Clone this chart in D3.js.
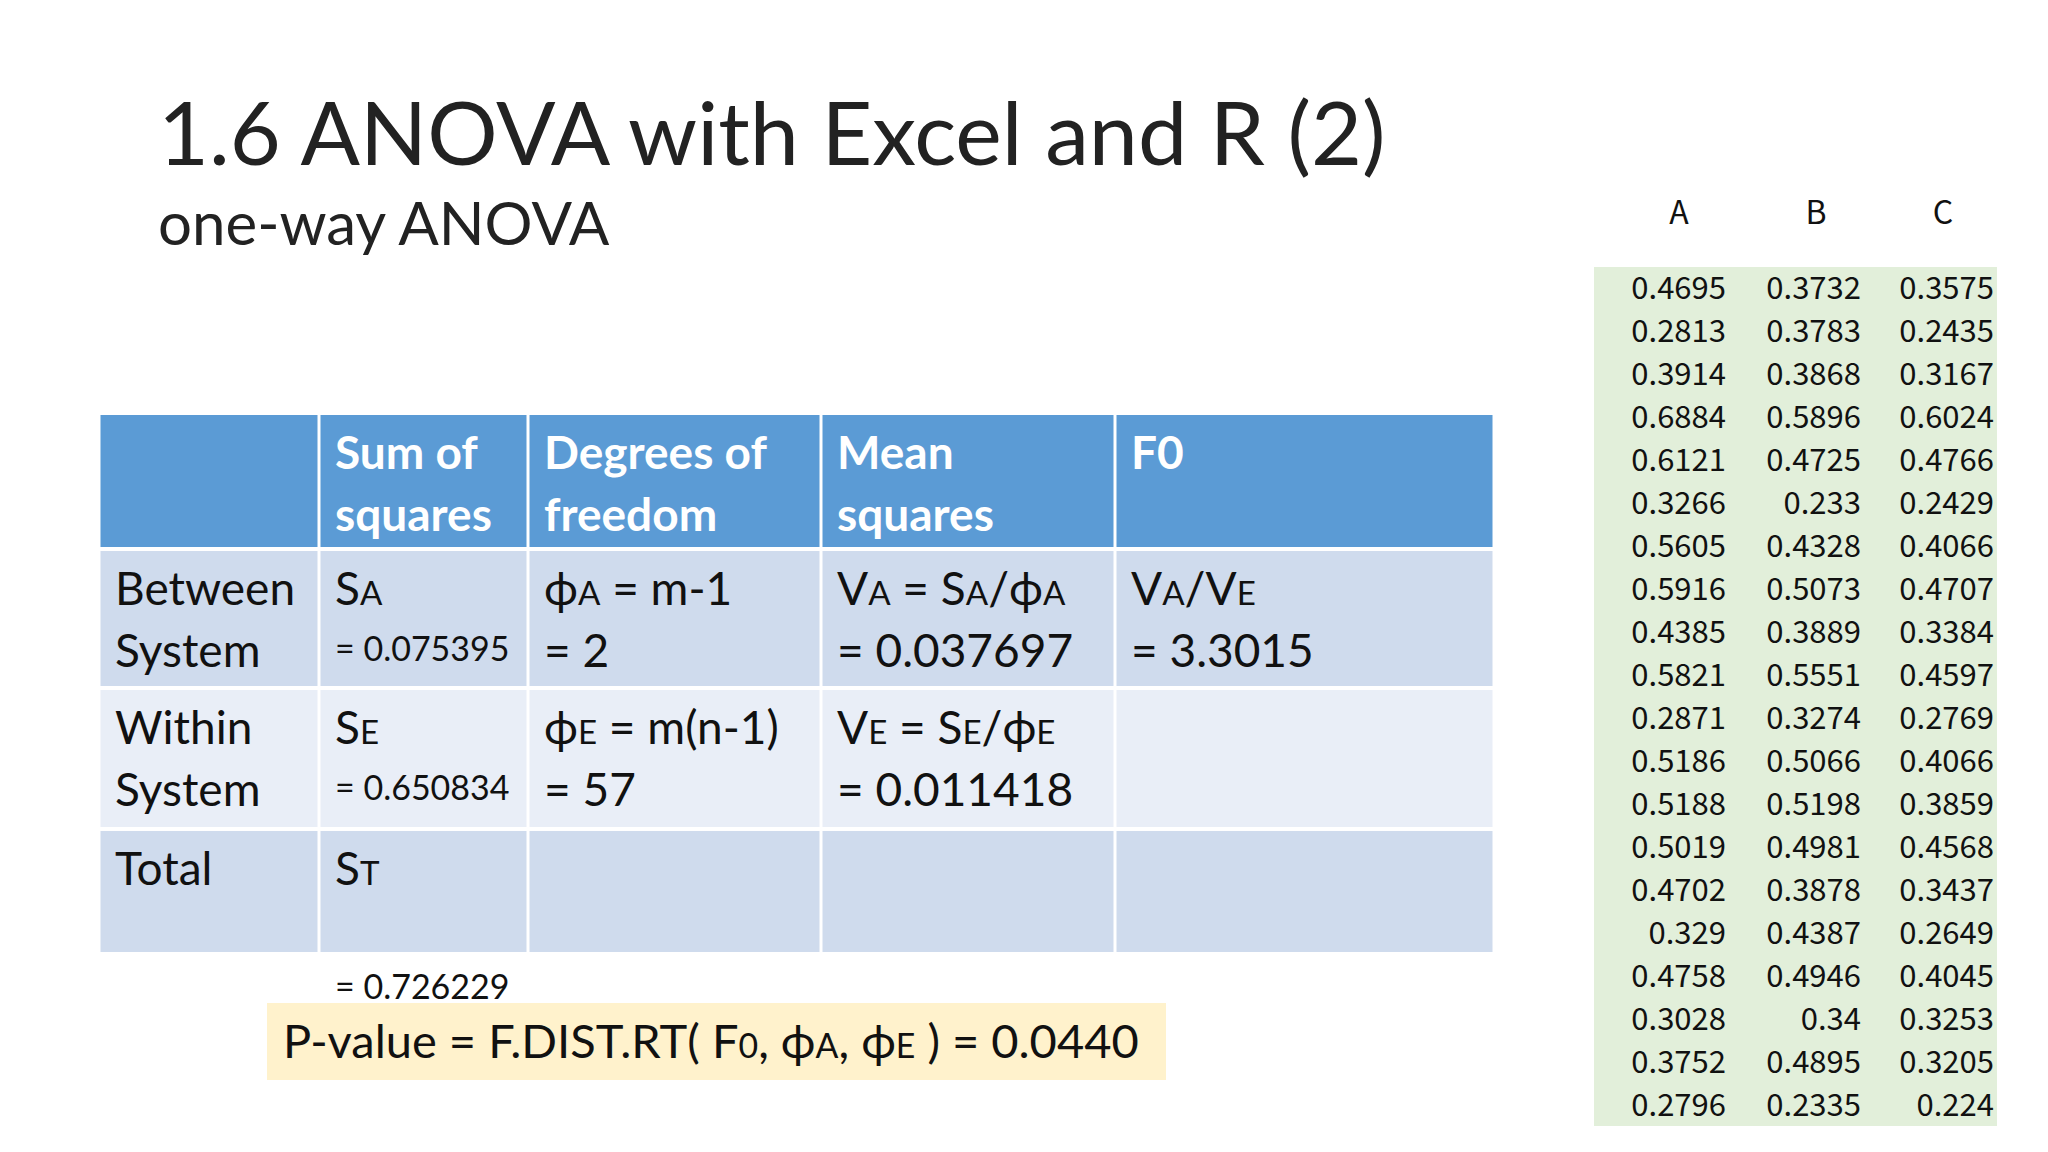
<!DOCTYPE html>
<html><head><meta charset="utf-8">
<script src="https://cdn.jsdelivr.net/npm/d3@7"></script>
<style>body{margin:0;background:#fff}svg{display:block}</style>
</head><body>
<script>
const title = "1.6 ANOVA with Excel and R (2)";
const subtitle = "one-way ANOVA";
const colNames = ["A","B","C"];
const valA = ["0.4695","0.2813","0.3914","0.6884","0.6121","0.3266","0.5605","0.5916","0.4385","0.5821","0.2871","0.5186","0.5188","0.5019","0.4702","0.329","0.4758","0.3028","0.3752","0.2796"];
const valB = ["0.3732","0.3783","0.3868","0.5896","0.4725","0.233","0.4328","0.5073","0.3889","0.5551","0.3274","0.5066","0.5198","0.4981","0.3878","0.4387","0.4946","0.34","0.4895","0.2335"];
const valC = ["0.3575","0.2435","0.3167","0.6024","0.4766","0.2429","0.4066","0.4707","0.3384","0.4597","0.2769","0.4066","0.3859","0.4568","0.3437","0.2649","0.4045","0.3253","0.3205","0.224"];
const headers = [[], ["Sum of","squares"], ["Degrees of","freedom"], ["Mean","squares"], ["F0"]];
// each cell: lines of segments [text, isSub]; small flag for smaller value line
const rows = [
 [ [[["Between"]],[["System"]]], [[["S"],["A",1]],[["= 0.075395"]]], [[["ϕ"],["A",1],[" = m-1"]],[["= 2"]]], [[["V"],["A",1],[" = S"],["A",1],["/ϕ"],["A",1]],[["= 0.037697"]]], [[["V"],["A",1],["/V"],["E",1]],[["= 3.3015"]]] ],
 [ [[["Within"]],[["System"]]], [[["S"],["E",1]],[["= 0.650834"]]], [[["ϕ"],["E",1],[" = m(n-1)"]],[["= 57"]]], [[["V"],["E",1],[" = S"],["E",1],["/ϕ"],["E",1]],[["= 0.011418"]]], [] ],
 [ [[["Total"]]], [[["S"],["T",1]],[],[["= 0.726229"]]], [], [], [] ]
];
const pvalue = [["P-value = F.DIST.RT( F"],["0",1],[", ϕ"],["A",1],[", ϕ"],["E",1],[" ) = 0.0440"]];

const W=2048,H=1152;
const svg=d3.select("body").append("svg").attr("width",W).attr("height",H);
const font="Lato, 'Open Sans', sans-serif";

svg.append("text").attr("x",158).attr("y",165).attr("font-family",font).attr("font-size",88).attr("fill","#222").text(title);
svg.append("text").attr("x",158).attr("y",245).attr("font-family",font).attr("font-size",60).attr("fill","#222").text(subtitle);

// table
const colEdges=[99,319,528,821,1115,1494];
const rowEdges=[413,549,688,829,954];
const rowFill=["#5b9bd5","#cfdbed","#e9eef7","#cfdbed"];
for(let r=0;r<4;r++) for(let c=0;c<5;c++){
  svg.append("rect").attr("x",colEdges[c]+1.5).attr("y",rowEdges[r]+2)
   .attr("width",colEdges[c+1]-colEdges[c]-3).attr("height",rowEdges[r+1]-rowEdges[r]-4).attr("fill",rowFill[r]);
}
headers.forEach((lines,c)=>lines.forEach((t,i)=>{
  svg.append("text").attr("x",colEdges[c]+16).attr("y",rowEdges[0]+56+i*62)
   .attr("font-family",font).attr("font-weight","bold").attr("font-size",46).attr("fill","#fff").text(t);
}));
function segs(sel,parts,fs){
  parts.forEach(p=>{
    sel.append("tspan").attr("font-size",p[1]?fs*0.72:fs).text(p[0]);
  });
}
rows.forEach((row,r)=>row.forEach((lines,c)=>lines.forEach((parts,i)=>{
  if(!parts.length) return;
  const small = c===1 && i>0;
  const fs = small?34:46;
  const y = rowEdges[r+1]+ (r===2 && i===2 ? 0 : 0) + 56 + (r===2&&i===2?1:i)*(i>0&&small? 58:62) + (r===2&&i===2?56:0);
  const t=svg.append("text").attr("x",colEdges[c]+(c===0?16:16)).attr("y",small? rowEdges[r+1]+56+ (r===2?114:56) : rowEdges[r+1]+56+i*62)
    .attr("font-family",font).attr("font-size",fs).attr("fill","#111");
  segs(t,parts,fs);
})));

// p-value
svg.append("rect").attr("x",267).attr("y",1003).attr("width",899).attr("height",77).attr("fill","#fff2cc");
const pt=svg.append("text").attr("x",283).attr("y",1058).attr("font-family",font).attr("font-size",47).attr("fill","#111");
segs(pt,pvalue,47);

// data block
const cols=[valA,valB,valC];
const y=d3.scaleBand().domain(d3.range(valA.length)).range([267,1126]);
const xRight=d3.scaleOrdinal().domain(colNames).range([1726,1861,1994]);
const xCenter=d3.scaleOrdinal().domain(colNames).range([1679,1816,1943]);
svg.append("rect").attr("x",1594).attr("y",267).attr("width",403).attr("height",859).attr("fill","#e2efda");
const jf="'Noto Sans CJK JP', 'DejaVu Sans', sans-serif";
colNames.forEach((n,ci)=>{
  svg.append("text").attr("x",xCenter(n)).attr("y",224).attr("text-anchor","middle").attr("font-family",jf).attr("font-size",32).attr("fill","#111").text(n);
  cols[ci].forEach((v,i)=>{
    svg.append("text").attr("x",xRight(n)).attr("y",y(i)+y.bandwidth()/2+11).attr("text-anchor","end")
     .attr("font-family",jf).attr("font-size",31).attr("fill","#111").text(v);
  });
});
</script>
</body></html>
